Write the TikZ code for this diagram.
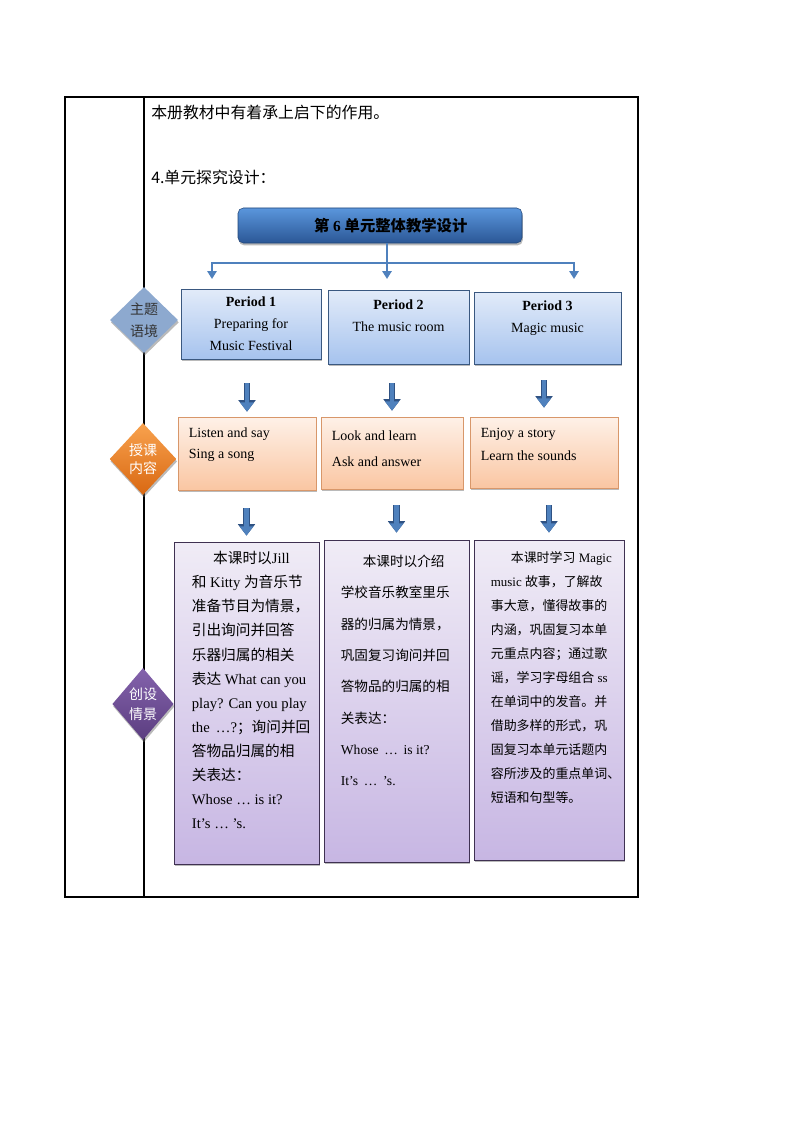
\documentclass[tikz,border=0pt]{standalone}
\usepackage{fontspec}
\setmainfont{Liberation Serif}
\newfontfamily\cjk{Noto Sans CJK SC}
\newcommand{\zh}[1]{{\cjk #1}}
\usetikzlibrary{shapes.geometric,shadows,arrows.meta}

\definecolor{linkblue}{HTML}{4F81BD}
\definecolor{arrowedge}{HTML}{2F5283}
\definecolor{titletop}{HTML}{5A96DC}
\definecolor{titlebot}{HTML}{2B5796}
\definecolor{periodtop}{HTML}{E2EBF9}
\definecolor{periodbot}{HTML}{A6C3EE}
\definecolor{periodedge}{HTML}{3A5880}
\definecolor{lessontop}{HTML}{FEF1E8}
\definecolor{lessonbot}{HTML}{FAC6A2}
\definecolor{lessonedge}{HTML}{D8976A}
\definecolor{scenetop}{HTML}{F0ECF6}
\definecolor{scenebot}{HTML}{C7B6E3}
\definecolor{sceneedge}{HTML}{3F3152}
\definecolor{themefill}{HTML}{8DA9CF}
\definecolor{orangetop}{HTML}{F8A24E}
\definecolor{orangebot}{HTML}{D96812}
\definecolor{purpletop}{HTML}{8462AC}
\definecolor{purplebot}{HTML}{5B3E80}

\tikzset{
  boxshadow/.style={drop shadow={shadow xshift=0.6pt, shadow yshift=-1.8pt, opacity=0.45, fill=black!60}},
  periodbox/.style={boxshadow, draw=periodedge, line width=0.6pt, top color=periodtop, bottom color=periodbot,
    align=center, inner sep=0pt, font=\fontsize{10.5}{16.5}\selectfont},
  lessonbox/.style={boxshadow, draw=lessonedge, line width=0.5pt, top color=lessontop, bottom color=lessonbot, inner sep=0pt},
  scenebox/.style={boxshadow, draw=sceneedge, line width=0.6pt, top color=scenetop, bottom color=scenebot, inner sep=0pt},
  boxtext/.style={anchor=north west, align=left, inner sep=0pt},
  tagdiamond/.style={diamond, boxshadow, inner sep=0pt, align=center},
  linkarrow/.style={draw=linkblue, line width=1.5pt, -{Triangle[width=7pt,length=6pt]}},
  bigarrow/.style={draw=linkblue, line width=3.6pt, -{Triangle[width=10pt,length=7pt]},
    preaction={draw=arrowedge, line width=5pt, -{Triangle[width=12.5pt,length=8.6pt]}}}
}

\begin{document}
\begin{tikzpicture}[x=0.75pt, y=-0.75pt]

\useasboundingbox (0,0) rectangle (794,1123);

% Draw the table frame
\draw[line width=0.8pt] (65,97) rectangle (638,897);
\draw[line width=0.8pt] (144,97) -- (144,897);

% Text above the chart
\node[anchor=west, inner sep=0pt, font=\cjk\fontsize{11.9}{14}\selectfont] (intro) at (151,112) {本册教材中有着承上启下的作用。};
\node[anchor=west, inner sep=0pt, font=\cjk\fontsize{11.9}{14}\selectfont] (heading) at (151,177) {4.单元探究设计：};

% Draw the title box
\node[boxshadow, rounded corners=4pt, top color=titletop, bottom color=titlebot, draw=titlebot!80!black, line width=0.4pt,
  minimum width=213pt, minimum height=26.25pt, font=\bfseries\fontsize{11.5}{14}\selectfont] (title) at (380,225.5)
  {\hspace*{16pt}\zh{第} 6 \zh{单元整体教学设计}};

% Draw the period boxes
\node[periodbox, minimum width=105pt, minimum height=52.5pt] (p1) at (251,324)
  {\textbf{Period 1}\\Preparing for\\Music Festival};
\node[periodbox, minimum width=105.75pt, minimum height=55.5pt] (p2) at (398.5,327)
  {\textbf{Period 2}\\The music room\\\mbox{}};
\node[periodbox, minimum width=110.25pt, minimum height=54pt] (p3) at (547.5,328)
  {\textbf{Period 3}\\Magic music\\\mbox{}};

% Branch from the title to the periods
\coordinate (hub) at (387,263);
\coordinate (t1) at (212,279);
\coordinate (t2) at (387,279);
\coordinate (t3) at (574,279);
\draw[draw=linkblue, line width=1.5pt] (title.south -| hub) -- (hub);
\draw[linkarrow] (hub) -| (t1);
\draw[linkarrow] (hub) -- (t2);
\draw[linkarrow] (hub) -| (t3);

% Draw the lesson boxes
\node[lessonbox, minimum width=103.5pt, minimum height=54.75pt] (b1) at (247,453.5) {};
\node[lessonbox, minimum width=106.5pt, minimum height=54pt] (b2) at (392,453) {};
\node[lessonbox, minimum width=111pt, minimum height=53.25pt] (b3) at (544,452.5) {};
\node[boxtext, font=\fontsize{10.5}{15.75}\selectfont] (b1t) at ([xshift=8.25pt,yshift=-8.25pt]b1.north west)
  {Listen and say\\Sing a song};
\node[boxtext, font=\fontsize{10.5}{19.5}\selectfont] (b2t) at ([xshift=8.25pt,yshift=-10.5pt]b2.north west)
  {Look and learn\\Ask and answer};
\node[boxtext, font=\fontsize{10.5}{17.25}\selectfont] (b3t) at ([xshift=8.25pt,yshift=-8.25pt]b3.north west)
  {Enjoy a story\\Learn the sounds};

% Draw the scene boxes
\node[scenebox, minimum width=108.75pt, minimum height=241.5pt] (c1) at (246.5,703) {};
\node[scenebox, minimum width=108.75pt, minimum height=241.5pt] (c2) at (396.5,701) {};
\node[scenebox, minimum width=112.5pt, minimum height=240pt] (c3) at (549,700) {};
\node[boxtext, font=\fontsize{11}{18.1}\selectfont] (c1t) at ([xshift=13.5pt,yshift=-7pt]c1.north west)
  {\hspace*{16pt}\zh{本课时以}Jill\\
   \zh{和} Kitty \zh{为音乐节}\\
   \zh{准备节目为情景，}\\
   \zh{引出询问并回答}\\
   \zh{乐器归属的相关}\\
   \zh{表达} What can you\\
   play? Can you play\\
   the \,…?\zh{；询问并回}\\
   \zh{答物品归属的相}\\
   \zh{关表达：}\\
   Whose … is it?\\
   It’s … ’s.};
\node[boxtext, font=\fontsize{10.2}{23.5}\selectfont] (c2t) at ([xshift=12.75pt,yshift=-11.25pt]c2.north west)
  {\hspace*{16.5pt}\zh{本课时以介绍}\\
   \zh{学校音乐教室里乐}\\
   \zh{器的归属为情景，}\\
   \zh{巩固复习询问并回}\\
   \zh{答物品的归属的相}\\
   \zh{关表达：}\\
   Whose \,…\, is it?\\
   It’s \,…\, ’s.};
\node[boxtext, font=\fontsize{9.7}{18}\selectfont] (c3t) at ([xshift=12.75pt,yshift=-9pt]c3.north west)
  {\hspace*{15pt}\zh{本课时学习} Magic\\
   music \zh{故事，了解故}\\
   \zh{事大意，懂得故事的}\\
   \zh{内涵，巩固复习本单}\\
   \zh{元重点内容；通过歌}\\
   \zh{谣，学习字母组合} ss\\
   \zh{在单词中的发音。并}\\
   \zh{借助多样的形式，巩}\\
   \zh{固复习本单元话题内}\\
   \zh{容所涉及的重点单词、}\\
   \zh{短语和句型等。}};

% Draw the thick arrows
\draw[bigarrow] ([yshift=-18pt]b1.north |- p1.south) -- ([yshift=3.75pt]b1.north);
\draw[bigarrow] ([yshift=-14.25pt]b2.north |- p2.south) -- ([yshift=4.5pt]b2.north);
\draw[bigarrow] ([yshift=-12pt]b3.north |- p3.south) -- ([yshift=6.75pt]b3.north);
\draw[bigarrow] ([yshift=-13.5pt]c1.north |- b1.south) -- ([yshift=4.5pt]c1.north);
\draw[bigarrow] ([yshift=-12pt]c2.north |- b2.south) -- ([yshift=5.25pt]c2.north);
\draw[bigarrow] ([yshift=-12.75pt]c3.north |- b3.south) -- ([yshift=5.25pt]c3.north);

% Draw the row labels
\node[tagdiamond, fill=themefill, text=black!80, minimum width=51pt, minimum height=49.5pt,
  font=\cjk\fontsize{10.5}{16.5}\selectfont] (d1) at (144,320) {主题\\语境};
\node[tagdiamond, top color=orangetop, bottom color=orangebot, text=white, minimum width=50pt, minimum height=54pt,
  font=\cjk\fontsize{10.5}{13.5}\selectfont] (d2) at (143,459) {授课\\内容};
\node[tagdiamond, top color=purpletop, bottom color=purplebot, text=white, minimum width=46pt, minimum height=54pt,
  font=\cjk\fontsize{10.5}{15}\selectfont] (d3) at (143,704) {创设\\情景};

\end{tikzpicture}
\end{document}
